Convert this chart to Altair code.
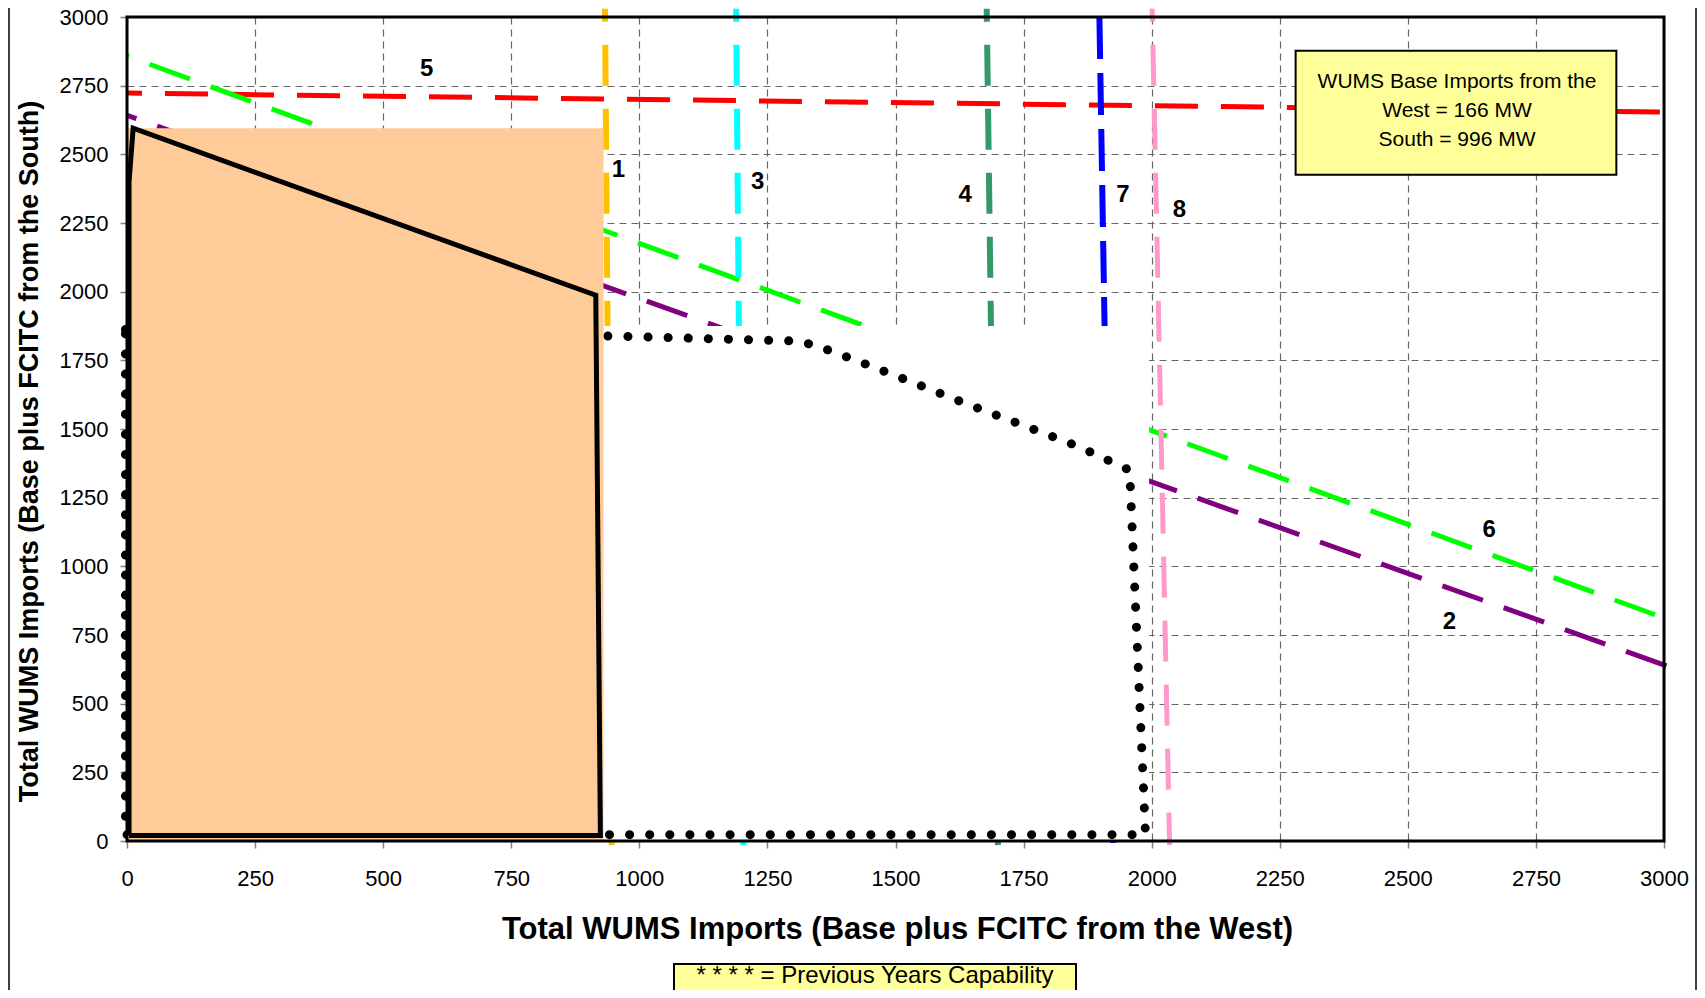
import altair as alt
import pandas as pd

FONT = "Liberation Sans"

# ---------------- data ----------------
x_ticks = list(range(0, 3001, 250))
y_ticks = list(range(0, 3001, 250))

# numbered limit lines (x, y end points)
line1_x = [933, 946];  line1_y = [3030, -15]
line2_x = [0, 3010];   line2_y = [2642, 634]
line3_x = [1189, 1203]; line3_y = [3030, -15]
line4_x = [1678, 1700]; line4_y = [3030, -15]
line5_x = [0, 3000];   line5_y = [2723, 2654]
line6_x = [0, 3010];   line6_y = [2858, 805]
line7_x = [1898, 1925]; line7_y = [3000, -15]
line8_x = [2001, 2035]; line8_y = [3030, -15]

# current capability (solid black outline)
cap_x = [4, 4, 12, 915, 924, 4]
cap_y = [20, 2400, 2595, 1987, 20, 20]

# shaded current capability region
shade_x = [0]; shade_x2 = [930]
shade_y = [0]; shade_y2 = [2595]

# previous years capability (dotted)
prev_x = [-3, 955, 1311, 1349, 1423, 1529, 1638, 1747, 1856, 1957, 1988, -3, -3]
prev_y = [1862, 1838, 1820, 1801, 1750, 1673, 1592, 1515, 1437, 1350, 23, 23, 1862]

# blank (white) region behind the previous capability
blank_x = [0]; blank_x2 = [1995]
blank_y = [0]; blank_y2 = [1875]

# line number labels
num_text = ["1", "3", "4", "7", "8", "5", "6", "2"]
num_x = [959, 1231, 1636, 1944, 2054, 585, 2659, 2581]
num_y = [2443, 2399, 2352, 2352, 2297, 2812, 1132, 798]

# annotation box
annot_lines = ["WUMS Base Imports from the", "West = 166 MW", "South = 996 MW"]
annot_text_x = [2596, 2596, 2596]
annot_text_y = [2740, 2637, 2531]
annot_box_x = [2281]; annot_box_x2 = [2907]
annot_box_y = [2426]; annot_box_y2 = [2877]

legend_label = "* * * * = Previous Years Capability"

# ---------------- scales / axes ----------------
XS = alt.Scale(domain=[0, 3000], nice=False, zero=False)
YS = alt.Scale(domain=[0, 3000], nice=False, zero=False)

X_AXIS = alt.Axis(
    values=x_ticks, format="d",
    title="Total WUMS Imports (Base plus FCITC from the West)",
    grid=True, gridDash=[7, 5], gridColor="#666666", gridWidth=1.2,
    domain=False, tickSize=7, tickColor="#808080", tickWidth=1.5,
    labelFont=FONT, labelFontSize=22, labelColor="black", labelPadding=20,
    labelFlush=False, labelOverlap=False,
    titleFont=FONT, titleFontSize=31, titleFontWeight="bold", titleColor="black",
    titleX=770, titleY=97, titleBaseline="alphabetic", titleAlign="center",
)
Y_AXIS = alt.Axis(
    values=y_ticks, format="d",
    title="Total WUMS Imports (Base plus FCITC from the South)",
    grid=True, gridDash=[7, 5], gridColor="#666666", gridWidth=1.2,
    domain=False, tickSize=7, tickColor="#808080", tickWidth=1.5,
    labelFont=FONT, labelFontSize=22, labelColor="black", labelPadding=12,
    labelFlush=False, labelOverlap=False,
    titleFont=FONT, titleFontSize=27, titleFontWeight="bold", titleColor="black",
    titleX=-90, titleY=434, titleAngle=270, titleBaseline="alphabetic", titleAlign="center",
)


def ex(field="x"):
    return alt.X(f"{field}:Q", scale=XS, axis=X_AXIS)


def ey(field="y"):
    return alt.Y(f"{field}:Q", scale=YS, axis=Y_AXIS)


def line_df(xs, ys):
    return pd.DataFrame({"x": xs, "y": ys, "i": list(range(len(xs)))})


layers = []

line_specs = [
    (line5_x, line5_y, "#FF0000", 5, [43, 23], 28),
    (line6_x, line6_y, "#00FF00", 5, [43, 22], 41),
    (line2_x, line2_y, "#800080", 5, [43, 22], 33),
    (line1_x, line1_y, "#FFC000", 6, [41, 23], 28),
    (line3_x, line3_y, "#00FFFF", 6, [41, 23], 28),
    (line4_x, line4_y, "#339966", 6, [41, 23], 28),
    (line7_x, line7_y, "#0000FF", 6, [42, 14], 0),
    (line8_x, line8_y, "#FF99CC", 5, [41, 23], 28),
]
for xs, ys, col, w, dash, off in line_specs:
    layers.append(
        alt.Chart(line_df(xs, ys)).mark_line(
            color=col, strokeWidth=w, strokeDash=dash, strokeDashOffset=off,
            strokeCap="butt", clip=False
        ).encode(x=ex(), y=ey(), order="i:Q")
    )

# white region
blank_df = pd.DataFrame({"x0": blank_x, "x1": blank_x2, "y0": blank_y, "y1": blank_y2})
layers.append(
    alt.Chart(blank_df).mark_rect(color="white").encode(
        x=ex("x0"), x2="x1:Q", y=ey("y0"), y2="y1:Q")
)

# previous years capability (dotted)
layers.append(
    alt.Chart(line_df(prev_x, prev_y)).mark_line(
        color="black", strokeWidth=9, strokeDash=[0.1, 20], strokeCap="round",
        strokeJoin="round", clip=False
    ).encode(x=ex(), y=ey(), order="i:Q")
)

# orange shaded region
shade_df = pd.DataFrame({"x0": shade_x, "x1": shade_x2, "y0": shade_y, "y1": shade_y2})
layers.append(
    alt.Chart(shade_df).mark_rect(color="#FFCC99").encode(
        x=ex("x0"), x2="x1:Q", y=ey("y0"), y2="y1:Q")
)

# current capability outline
layers.append(
    alt.Chart(line_df(cap_x, cap_y)).mark_line(
        color="black", strokeWidth=5, strokeJoin="miter", clip=False
    ).encode(x=ex(), y=ey(), order="i:Q")
)

# plot frame
frame_df = pd.DataFrame({"x0": [0], "x1": [3000], "y0": [0], "y1": [3000]})
layers.append(
    alt.Chart(frame_df).mark_rect(fill="white", fillOpacity=0, stroke="black", strokeWidth=3).encode(
        x=ex("x0"), x2="x1:Q", y=ey("y0"), y2="y1:Q")
)

# numbers
num_df = pd.DataFrame({"t": num_text, "x": num_x, "y": num_y})
layers.append(
    alt.Chart(num_df).mark_text(font=FONT, fontSize=24, fontWeight="bold", color="black",
                                align="center", baseline="middle").encode(
        x=ex(), y=ey(), text="t:N")
)

# annotation box
annot_box_df = pd.DataFrame({"x0": annot_box_x, "x1": annot_box_x2, "y0": annot_box_y, "y1": annot_box_y2})
layers.append(
    alt.Chart(annot_box_df).mark_rect(fill="#FFFF99", stroke="black", strokeWidth=2).encode(
        x=ex("x0"), x2="x1:Q", y=ey("y0"), y2="y1:Q")
)
annot_df = pd.DataFrame({"t": annot_lines, "x": annot_text_x, "y": annot_text_y})
layers.append(
    alt.Chart(annot_df).mark_text(font=FONT, fontSize=21, color="black",
                                  align="center", baseline="alphabetic").encode(
        x=ex(), y=ey(), text="t:N")
)

# bottom legend box
one = pd.DataFrame({"a": [0]})
layers.append(
    alt.Chart(one).mark_rect(fill="#FFFF99", stroke="black", strokeWidth=2).encode(
        x=alt.value(547), x2=alt.value(949), y=alt.value(947), y2=alt.value(1000))
)
layers.append(
    alt.Chart(pd.DataFrame({"t": [legend_label]})).mark_text(
        font=FONT, fontSize=24, color="black", align="center", baseline="alphabetic").encode(
        x=alt.value(748), y=alt.value(966), text="t:N")
)

# outer chart-area frame lines
layers.append(
    alt.Chart(one).mark_rule(color="#404040", strokeWidth=2).encode(
        x=alt.value(1569), y=alt.value(-10), y2=alt.value(980))
)
layers.append(
    alt.Chart(one).mark_rule(color="#404040", strokeWidth=2).encode(
        x=alt.value(-118), y=alt.value(-10), y2=alt.value(980))
)

chart = alt.layer(*layers).properties(
    width=1537, height=824,
    padding={"left": 119, "top": 9, "right": 33, "bottom": 149},
    autosize=alt.AutoSizeParams(type="none"),
    background="white",
).configure_view(strokeWidth=0)

chart.save("out.html", embed_options={"renderer": "svg", "actions": False})
